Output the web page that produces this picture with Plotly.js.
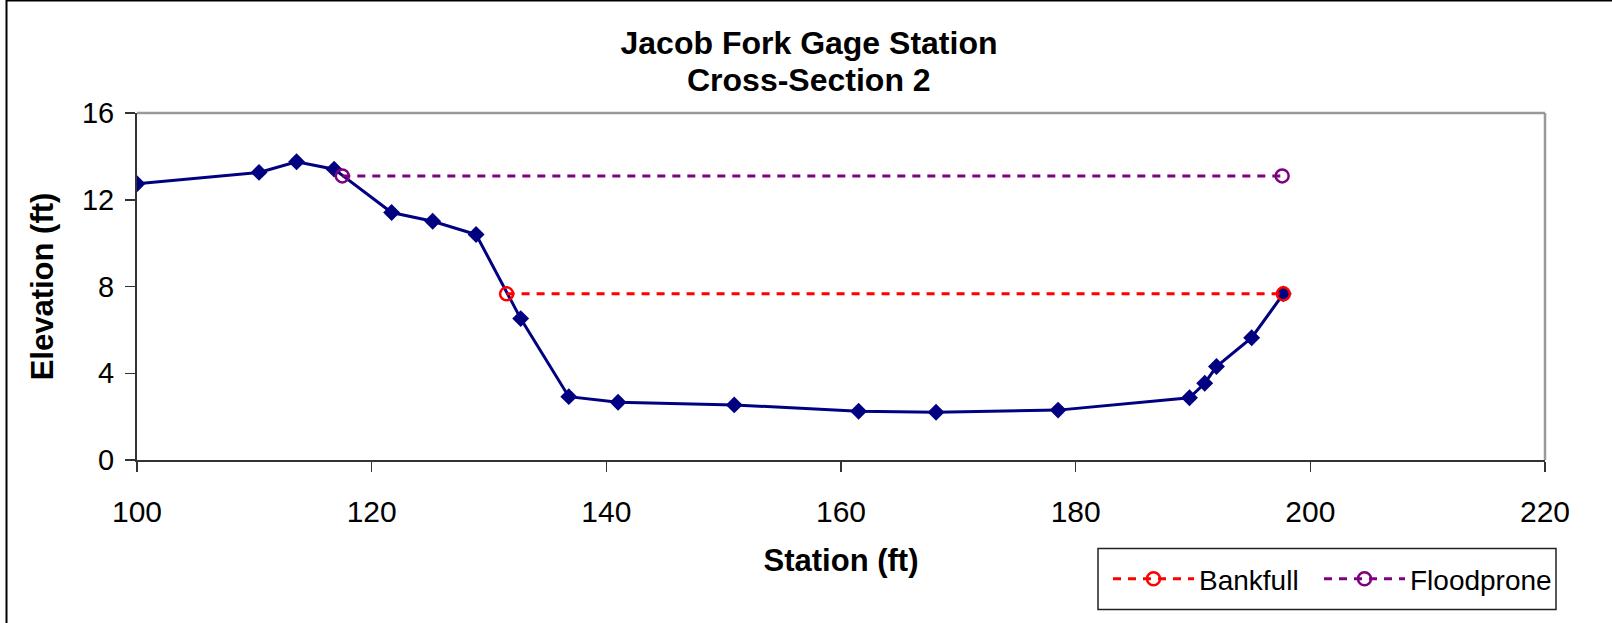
<!DOCTYPE html>
<html>
<head>
<meta charset="utf-8">
<script src="https://cdn.plot.ly/plotly-3.0.1.min.js"></script>
<style>
  html, body { margin: 0; padding: 0; background: #fff; }
  #chart { width: 1612px; height: 623px; }
</style>
</head>
<body>
<div id="chart"></div>
<script>
// Cross-section survey (station ft, elevation ft)
const station = [100, 110.4, 113.6, 116.8, 121.7, 125.2, 128.9, 132.7, 136.8, 141.0, 150.9, 161.5, 168.1, 178.5, 189.7, 191.0, 192.0, 195.0, 197.7];
const elevation = [12.74, 13.26, 13.75, 13.41, 11.41, 11.01, 10.40, 6.52, 2.92, 2.66, 2.54, 2.25, 2.20, 2.30, 2.87, 3.54, 4.31, 5.64, 7.66];

const bankfullStation = [131.5, 197.7];
const bankfullElevation = [7.66, 7.66];

const floodproneStation = [117.5, 197.6];
const floodproneElevation = [13.1, 13.1];

const seriesNames = ['Cross-Section', 'Bankfull', 'Floodprone'];
const titleLine1 = 'Jacob Fork Gage Station';
const titleLine2 = 'Cross-Section 2';
const xTitle = 'Station (ft)';
const yTitle = 'Elevation (ft)';

const FONT = 'Liberation Sans, Arial, sans-serif';

const traces = [
  {
    x: station, y: elevation, name: seriesNames[0], type: 'scatter', mode: 'lines+markers',
    line: { color: '#000080', width: 3 },
    marker: { symbol: 'diamond', size: 13, color: '#000080' },
    showlegend: false
  },
  {
    x: bankfullStation, y: bankfullElevation, name: seriesNames[1], type: 'scatter', mode: 'lines+markers',
    line: { color: '#FF0000', width: 3, dash: '8px,7px' },
    marker: { symbol: 'circle-open', size: 13, color: '#FF0000', line: { width: 2.5, color: '#FF0000' } },
    legend: 'legend'
  },
  {
    x: floodproneStation, y: floodproneElevation, name: seriesNames[2], type: 'scatter', mode: 'lines+markers',
    line: { color: '#800080', width: 3, dash: '8px,7px' },
    marker: { symbol: 'circle-open', size: 13, color: '#800080', line: { width: 2.5, color: '#800080' } },
    legend: 'legend2'
  }
];

const W = 1612, H = 623;
const mL = 137, mR = 67, mT = 113, mB = 163;
const pw = W - mL - mR, ph = H - mT - mB;
const px2x = p => (p - mL) / pw;
const px2y = p => (H - mB - p) / ph;

const titleFont = { family: FONT, size: 32, weight: 700, color: '#000' };
const legendBase = {
  orientation: 'h',
  yanchor: 'middle', xanchor: 'left',
  y: px2y(579),
  bgcolor: 'rgba(0,0,0,0)',
  borderwidth: 0,
  font: { family: FONT, size: 28, color: '#000' },
  itemwidth: 81
};

const layout = {
  width: W, height: H,
  margin: { l: mL, r: mR, t: mT, b: mB, pad: 0 },
  paper_bgcolor: '#ffffff',
  plot_bgcolor: '#ffffff',
  font: { family: FONT, color: '#000' },
  title: {
    text: titleLine1,
    font: titleFont,
    x: 809 / W, xanchor: 'center', xref: 'container',
    y: 1 - 43 / H, yanchor: 'middle', yref: 'container'
  },
  annotations: [
    { text: titleLine2, font: titleFont, showarrow: false,
      xref: 'paper', yref: 'paper', x: px2x(809), y: px2y(80), xanchor: 'center', yanchor: 'middle' }
  ],
  xaxis: {
    range: [100, 220], dtick: 20, tick0: 100,
    showgrid: false, zeroline: false,
    showline: true, linecolor: '#333333', linewidth: 2,
    ticks: 'outside', ticklen: 10, tickwidth: 1.5, tickcolor: '#333333',
    tickfont: { family: FONT, size: 30, color: '#000' },
    ticklabelstandoff: 14,
    title: { text: xTitle, font: { family: FONT, size: 31, weight: 700, color: '#000' }, standoff: 22 },
    automargin: false, fixedrange: true
  },
  yaxis: {
    range: [0, 16], dtick: 4, tick0: 0,
    showgrid: false, zeroline: false,
    showline: true, linecolor: '#333333', linewidth: 2,
    ticks: 'outside', ticklen: 10, tickwidth: 1.5, tickcolor: '#333333',
    tickfont: { family: FONT, size: 29, color: '#000' },
    ticklabelstandoff: 5,
    title: { text: yTitle, font: { family: FONT, size: 31, weight: 700, color: '#000' }, standoff: 19 },
    automargin: false, fixedrange: true
  },
  legend: Object.assign({}, legendBase, { x: px2x(1108) }),
  legend2: Object.assign({}, legendBase, { x: px2x(1319) }),
  shapes: [
    // plot-area frame (top & right, grey)
    { type: 'line', xref: 'paper', yref: 'paper', x0: 0, x1: 1, y0: 1, y1: 1, line: { color: '#999999', width: 2.5 } },
    { type: 'line', xref: 'paper', yref: 'paper', x0: 1, x1: 1, y0: 0, y1: 1, line: { color: '#999999', width: 2.5 } },
    // outer chart border (top & left, black)
    { type: 'line', xref: 'paper', yref: 'paper', x0: px2x(6.5), x1: px2x(1612), y0: px2y(0.5), y1: px2y(0.5), line: { color: '#000000', width: 2 } },
    { type: 'line', xref: 'paper', yref: 'paper', x0: px2x(6.5), x1: px2x(6.5), y0: px2y(0), y1: px2y(623), line: { color: '#000000', width: 2 } },
    // legend frame
    { type: 'rect', xref: 'paper', yref: 'paper', x0: px2x(1098), x1: px2x(1556), y0: px2y(548.5), y1: px2y(609.5), line: { color: '#222222', width: 1.5 }, fillcolor: 'rgba(0,0,0,0)', layer: 'below' }
  ]
};

Plotly.newPlot('chart', traces, layout, { displayModeBar: false, staticPlot: true });
</script>
</body>
</html>
